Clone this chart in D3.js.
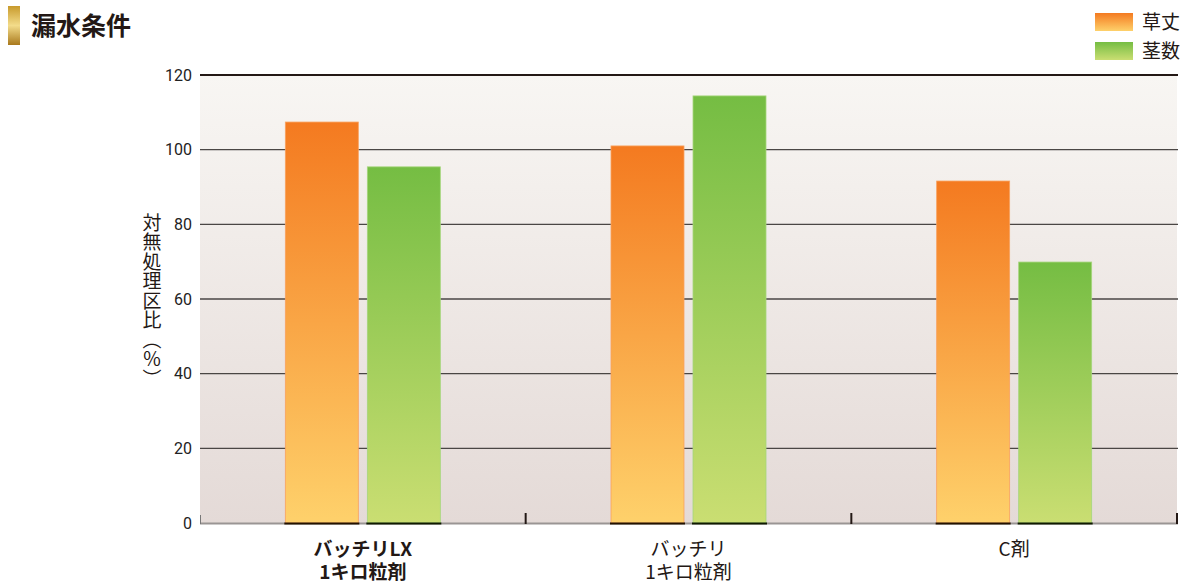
<!DOCTYPE html>
<html><head><meta charset="utf-8">
<script src="https://cdn.jsdelivr.net/npm/d3@7/dist/d3.min.js"></script>
<style>
body{margin:0;background:#fff;}
svg{display:block;font-family:"Noto Sans CJK JP","Noto Sans",sans-serif;}
</style></head>
<body><svg id="c" width="1180" height="584"></svg>
<script>
const categories = ["バッチリLX\n1キロ粒剤", "バッチリ\n1キロ粒剤", "C剤"];
const seriesNames = ["草丈", "茎数"];
const heightValues = [107.4, 101.0, 91.6];
const stemValues = [95.4, 114.4, 69.9];
const yTicks = [0, 20, 40, 60, 80, 100, 120];
const title = "漏水条件";
const yTitle = "対無処理区比（％）";

const svg = d3.select("#c");
const L = 200, R = 1177, T = 75, B = 523;
const defs = svg.append("defs");

function grad(id, stops) {
  const g = defs.append("linearGradient").attr("id", id).attr("x1", 0).attr("y1", 0).attr("x2", 0).attr("y2", 1);
  stops.forEach(s => g.append("stop").attr("offset", s[0]).attr("stop-color", s[1]));
}
grad("bg", [[0, "#f8f6f3"], [1, "#e4dad7"]]);
grad("gOrange", [[0, "#f47a20"], [1, "#fed16b"]]);
grad("gGreen", [[0, "#75bd43"], [1, "#cade72"]]);
grad("gold", [[0, "#c89a2c"], [0.5, "#f3dc8a"], [1, "#a9791d"]]);

const x = d3.scaleBand().domain(categories).range([L, R]);
const y = d3.scaleLinear().domain([0, 120]).range([B, T]);
const xs = d3.scaleBand().domain(seriesNames).range([0, 155]).paddingInner(0.11);

// background
svg.append("rect").attr("x", L).attr("y", T).attr("width", R - L).attr("height", B - T).attr("fill", "url(#bg)");

// gridlines + y labels
const yAxis = d3.axisLeft(y).tickValues(yTicks).tickSize(0).tickPadding(8);
const ya = svg.append("g").attr("transform", `translate(${L},0)`).call(yAxis);
ya.select(".domain").remove();
ya.selectAll("text").attr("font-family", "Roboto, 'Liberation Sans', sans-serif").attr("font-size", 16).attr("fill", "#222");
svg.append("g").selectAll("line").data(yTicks.filter(d => d > 0 && d < 120)).join("line")
  .attr("x1", L).attr("x2", R + 1).attr("y1", d => y(d)).attr("y2", d => y(d))
  .attr("stroke", "#4a4644").attr("stroke-width", 1.3);
svg.append("line").attr("x1", L).attr("x2", R + 1).attr("y1", y(120)).attr("y2", y(120))
  .attr("stroke", "#231815").attr("stroke-width", 2.2);

// bottom axis line
svg.append("line").attr("x1", L).attr("x2", R + 1).attr("y1", B + 0.5).attr("y2", B + 0.5)
  .attr("stroke", "#9a9594").attr("stroke-width", 2);

// bars
const data = categories.map((c, i) => ({c, vals: [heightValues[i], stemValues[i]]}));
const g = svg.append("g").selectAll("g").data(data).join("g")
  .attr("transform", d => `translate(${x(d.c) + x.bandwidth() / 2 - 77.5},0)`);
g.selectAll("rect").data(d => d.vals.map((v, j) => ({v, s: seriesNames[j], j}))).join("rect")
  .attr("x", d => xs(d.s)).attr("width", xs.bandwidth())
  .attr("y", d => y(d.v)).attr("height", d => y(0) - y(d.v))
  .attr("fill", d => d.j === 0 ? "url(#gOrange)" : "url(#gGreen)")
  .attr("stroke", d => d.j === 0 ? "#f9a15e" : "#a6d67c").attr("stroke-width", 0.8);
g.selectAll("line.bb").data(d => d.vals.map((v, j) => ({s: seriesNames[j], j}))).join("line")
  .attr("class", "bb")
  .attr("x1", d => xs(d.s) - 1).attr("x2", d => xs(d.s) + xs.bandwidth() + 1)
  .attr("y1", B + 0.5).attr("y2", B + 0.5)
  .attr("stroke", d => d.j === 0 ? "#231200" : "#0f1a00").attr("stroke-width", 2);

// category boundary ticks
const bounds = [L, ...categories.slice(1).map(c => x(c)), R];
svg.append("g").selectAll("line").data(bounds).join("line")
  .attr("x1", (d, i) => i === 0 ? d + 0.5 : d).attr("x2", (d, i) => i === 0 ? d + 0.5 : d)
  .attr("y1", (d, i) => i === 0 ? B - 8 : B - 10).attr("y2", B + 1)
  .attr("stroke", (d, i) => i === 0 ? "#777" : "#231815").attr("stroke-width", (d, i) => i === 0 ? 1 : 2);

// x labels (one text per line)
const xlData = [];
categories.forEach((c, i) => c.split("\n").forEach((ln, k) => xlData.push({c, ln, k, i})));
svg.append("g").selectAll("text").data(xlData).join("text")
  .attr("x", d => x(d.c) + x.bandwidth() / 2).attr("y", d => 556 + d.k * 23)
  .attr("text-anchor", "middle").attr("font-size", 19).attr("fill", "#231815")
  .attr("font-weight", d => d.i === 0 ? "bold" : "normal").text(d => d.ln);

// y title
svg.append("text").attr("transform", "translate(152,213)")
  .style("writing-mode", "vertical-rl").attr("font-size", 19).attr("fill", "#231815")
  .attr("letter-spacing", "0.5").text(yTitle);

// title
svg.append("rect").attr("x", 8).attr("y", 6).attr("width", 12).attr("height", 39).attr("fill", "url(#gold)");
svg.append("text").attr("x", 31).attr("y", 35).attr("font-size", 25).attr("font-weight", "bold").attr("fill", "#231815").text(title);

// legend
const lg = svg.append("g").selectAll("g").data(seriesNames).join("g")
  .attr("transform", (d, i) => `translate(1095,${13 + i * 29})`);
lg.append("rect").attr("width", 38).attr("height", 18).attr("fill", (d, i) => i === 0 ? "url(#gOrange)" : "url(#gGreen)");
lg.append("text").attr("x", 47).attr("y", 16).attr("font-size", 19).attr("fill", "#231815").text(d => d);
</script></body></html>
